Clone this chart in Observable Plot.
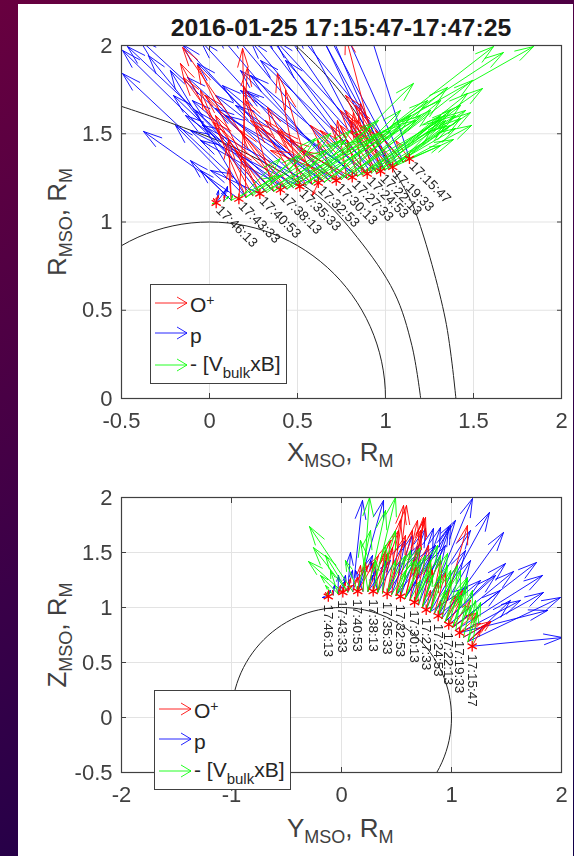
<!DOCTYPE html>
<html>
<head>
<meta charset="utf-8">
<script src="https://cdn.jsdelivr.net/npm/d3@7"></script>
<script src="https://cdn.jsdelivr.net/npm/@observablehq/plot@0.6"></script>
<style>
html,body{margin:0;padding:0}
body{width:574px;height:856px;position:relative;overflow:hidden;background:linear-gradient(150deg,#68003f 0%,#3a0048 50%,#100048 100%);font-family:"Liberation Sans",Arial,sans-serif}
#paper{position:absolute;left:18px;top:4px;width:554.5px;height:852px;background:#fff}
.chart{position:absolute;left:0;filter:blur(0.3px)}
.chart svg{display:block;background:transparent}
#title{position:absolute;left:121px;width:440px;top:14px;text-align:center;font-weight:bold;font-size:24.8px;color:#1a1a1a;white-space:nowrap}
.lab{position:absolute;color:#404040;font-size:26px;white-space:nowrap;line-height:1}
.lab sub{font-size:18px;vertical-align:-6px;line-height:0}
.legend{position:absolute;width:135px;height:98px;border:1.5px solid #404040;background:#fff;color:#262626;font-size:21px}
.legend svg{position:absolute;left:0;top:0}
.legend span.t{position:absolute;left:39px;white-space:nowrap;line-height:1}
.legend sup{font-size:14px;vertical-align:7px;line-height:0}
.legend sub{font-size:15px;vertical-align:-7px;line-height:0}
</style>
</head>
<body>
<div id="paper"></div>
<div id="c1" class="chart" style="top:0"></div>
<div id="c2" class="chart" style="top:460px"></div>
<div id="title">2016-01-25 17:15:47-17:47:25</div>
<div class="lab" style="left:287px;top:439px">X<sub>MSO</sub>, R<sub>M</sub></div>
<div class="lab" style="left:287px;top:815px">Y<sub>MSO</sub>, R<sub>M</sub></div>
<div class="lab" style="left:57px;top:222px;transform:translate(-50%,-50%) rotate(-90deg)">R<sub>MSO</sub>, R<sub>M</sub></div>
<div class="lab" style="left:57px;top:635px;transform:translate(-50%,-50%) rotate(-90deg)">Z<sub>MSO</sub>, R<sub>M</sub></div>
<div id="leg1" class="legend" style="left:150px;top:284px"></div>
<div id="leg2" class="legend" style="left:154px;top:690px"></div>
<script>
// station time labels, every third sample along the track
const stationTimes = ["17:15:47","17:19:33","17:22:13","17:24:53","17:27:33","17:30:13","17:32:53","17:35:33","17:38:13","17:40:53","17:43:33","17:46:13"];
const xTicksTop = [-0.5,0,0.5,1,1.5,2];
const yTicksTop = [0,0.5,1,1.5,2];
const xTicksBottom = [-2,-1,0,1,2];
const yTicksBottom = [-0.5,0,0.5,1,1.5,2];

// Upper panel: track
const trackX = [1.136,1.10,1.07,1.041,1.02,0.995,0.972,0.947,0.92,0.896,0.868,0.84,0.811,0.78,0.75,0.72,0.686,0.652,0.618,0.583,0.548,0.513,0.476,0.44,0.403,0.364,0.325,0.286,0.246,0.207,0.167,0.124,0.081,0.038];
const trackR = [1.358,1.34,1.325,1.311,1.303,1.295,1.288,1.283,1.278,1.273,1.267,1.26,1.254,1.248,1.241,1.235,1.23,1.226,1.222,1.215,1.208,1.201,1.195,1.188,1.182,1.175,1.167,1.16,1.15,1.14,1.131,1.123,1.116,1.108];
// Upper panel: arrow tips
const pTipX = [0.80,0.716,0.631,0.46,0.631,0.517,0.347,0.517,0.318,0.233,0.233,0.205,0.119,0.176,0.034,0.074,-0.051,0.034,-0.068,-0.153,-0.125,-0.403,-0.097,-0.136,-0.466,-0.205,-0.494,-0.347,-0.494,-0.193,-0.375,-0.108,0.102,0.051];
const pTipR = [2.425,2.198,2.142,2.368,2.198,2.312,2.198,2.113,2.085,2.142,2.028,1.745,2.085,1.858,2.085,1.773,2.028,1.643,1.898,2.006,1.819,2.04,1.688,1.603,1.994,1.717,1.972,1.943,1.841,1.547,1.513,1.348,1.201,1.178];
const oTipX = [1.057,0.943,0.858,0.801,0.83,0.773,0.773,0.744,0.858,0.631,0.818,0.784,0.517,0.727,0.347,0.614,0.233,0.386,0.585,0.432,0.33,0.386,-0.023,0.023,-0.153,0.193,-0.148,-0.068,-0.165,0.188,0.216,0.108,0.085,0.023];
const oTipR = [1.462,1.518,1.547,1.518,1.575,1.632,2.057,1.547,1.671,1.518,1.62,1.462,1.405,1.575,1.405,1.462,1.575,1.518,1.15,1.745,1.649,1.841,1.717,1.564,1.989,1.773,1.819,1.887,1.898,1.983,1.875,1.303,1.15,1.133];
const eTipX = [1.313,1.341,1.256,1.386,1.341,1.398,1.313,1.426,1.369,1.466,1.341,1.551,1.256,1.494,1.142,1.352,1.085,1.239,1.614,1.159,0.915,1.67,0.96,0.801,1.841,0.773,0.744,0.688,0.602,0.517,0.403,0.131,0.108,0.017];
const eTipR = [1.433,1.575,1.518,1.467,1.547,1.53,1.603,1.66,1.632,1.728,1.603,1.756,1.632,1.802,1.603,1.762,1.632,1.688,1.994,1.785,1.547,1.96,1.575,1.518,1.994,1.462,1.462,1.501,1.473,1.377,1.36,1.15,1.144,1.105];
// Upper panel: further tips, from every second sample (odd positions of the track)
const pTip2X = [0.489,0.375,0.432,0.29,0.233,0.176,0.148,0.091,0.034,-0.04,-0.108,-0.051,-0.08,0.006,-0.222,-0.051,0.091];
const pTip2R = [2.085,2.028,1.915,1.915,1.83,1.745,1.66,1.603,1.717,1.547,1.518,1.462,1.632,1.292,1.858,1.292,1.178];
const oTip2X = [0.773,0.83,0.744,0.801,0.688,0.574,0.46,0.403,0.318,0.261,0.205,0.176,0.148,0.034,-0.051,0.108,0.051];
const oTip2R = [1.717,1.66,1.632,1.575,1.547,1.547,1.462,1.518,1.575,1.547,1.688,1.518,1.405,1.603,1.745,1.462,1.15];
const eTip2X = [1.489,1.426,1.483,1.369,1.455,1.398,1.313,1.313,1.199,1.085,1.17,1.028,0.943,0.858,0.659,0.403,0.028];
const eTip2R = [1.547,1.586,1.62,1.547,1.632,1.603,1.688,1.575,1.603,1.547,1.575,1.518,1.49,1.462,1.405,1.263,1.105];

// Lower panel: track
const trackY = [1.188,1.15,1.11,1.073,1.04,1.01,0.975,0.943,0.911,0.879,0.843,0.806,0.77,0.735,0.70,0.664,0.621,0.578,0.536,0.496,0.455,0.415,0.373,0.33,0.288,0.241,0.195,0.148,0.103,0.057,0.012,-0.032,-0.076,-0.12];
const trackZ = [0.648,0.69,0.73,0.77,0.795,0.82,0.845,0.871,0.898,0.924,0.942,0.961,0.979,1.002,1.025,1.048,1.065,1.083,1.10,1.108,1.116,1.124,1.132,1.14,1.148,1.148,1.148,1.148,1.145,1.142,1.139,1.126,1.113,1.10];
// Lower panel: arrow tips
const pTipY = [2.009,1.991,1.836,1.873,1.827,1.773,1.564,1.491,1.473,1.264,1.345,1.145,1.191,0.991,0.973,0.9,0.836,0.809,0.764,0.718,0.645,0.536,0.4,0.264,0.309,0.282,0.127,0.382,0.191,0.082,0.036,-0.027,-0.064,-0.173];
const pTipZ = [0.727,1.091,1.136,0.973,1.291,1.409,1.327,1.4,1.682,1.245,1.864,1.182,1.991,1.745,1.727,1.727,1.718,1.473,1.718,1.518,1.655,1.427,1.427,1.427,1.336,1.291,1.336,1.973,1.973,1.5,1.291,1.291,1.2,1.091];
const oTipY = [1.264,1.355,1.355,1.264,1.236,1.191,1.082,1.036,1.145,0.9,0.945,0.882,0.809,0.809,0.673,0.745,0.745,0.764,0.691,0.591,0.564,0.536,0.464,0.4,0.418,0.291,0.218,0.173,0.145,0.082,0.036,-0.009,-0.082,-0.145];
const oTipZ = [0.791,0.864,0.873,0.855,0.955,0.945,1.064,1.109,1.745,1.064,1.318,1.227,1.155,1.427,1.382,1.818,1.791,1.818,1.791,1.927,1.927,1.791,1.545,1.518,1.491,1.409,1.409,1.382,1.273,1.264,1.227,1.2,1.155,1.136];
const eTipY = [1.236,1.264,1.173,1.127,1.082,1.145,1.064,1.145,0.991,1.055,0.945,0.9,0.964,0.827,0.809,0.873,0.718,0.718,0.627,0.582,0.718,0.491,0.4,0.309,0.491,0.173,0.255,0.036,-0.291,-0.255,-0.3,-0.191,-0.145,-0.127];
const eTipZ = [0.955,1.045,1.018,1.018,1.109,1.264,1.155,1.273,1.245,1.382,1.155,1.291,1.491,1.291,1.427,1.564,1.245,1.427,1.518,1.336,1.545,1.427,1.564,1.427,2.0,1.609,2.0,1.427,1.736,1.545,1.418,1.291,1.2,1.136];
// Lower panel: further tips, from every second sample
const pTip2Y = [1.536,1.627,1.445,1.4,1.173,1.127,1.173,0.945,1.036,0.855,0.7,0.582,0.445,0.282,0.1,0.036,-0.1];
const pTip2Z = [1.064,1.064,1.155,1.291,1.427,1.518,1.7,1.564,1.791,1.564,1.564,1.609,1.427,1.473,1.336,1.245,1.155];
const oTip2Y = [1.309,1.245,1.173,1.1,0.973,0.9,0.827,0.791,0.718,0.645,0.582,0.518,0.445,0.336,0.245,0.1,-0.118];
const oTip2Z = [0.836,0.927,1.064,1.155,1.155,1.427,1.336,1.564,1.7,1.7,1.655,1.7,1.609,1.473,1.382,1.2,1.155];
const eTip2Y = [1.218,1.191,1.127,1.082,0.991,0.964,0.9,0.809,0.764,0.673,0.582,0.491,0.4,0.264,-0.145,-0.1,-0.136];
const eTip2Z = [1.064,1.155,1.155,1.336,1.336,1.382,1.473,1.336,1.473,1.427,1.473,1.7,1.882,1.7,1.473,1.336,1.118];

// Reference boundaries in the upper panel
const midX = [-0.5,-0.148,0.176,0.614,0.84,1.05,1.15,1.2];
const midR = [1.655,1.535,1.405,1.15,0.912,0.6,0.3,0];
const outerX = [0.49,0.648,0.79,1.108,1.18,1.34,1.4];
const outerR = [2.0,1.847,1.677,1.19,1.03,0.45,0];

const RED="#ff0000", BLUE="#0000ff", GREEN="#00ff00", GRID="#e3e3e3", INK="#404040";
const odd=a=>a.filter((_,i)=>i%2===1);
const rows=(sx,sy,tx,ty,tx2,ty2)=>[
  ...sx.map((x,i)=>({x1:x,y1:sy[i],x2:tx[i],y2:ty[i]})),
  ...odd(sx).map((x,i)=>({x1:x,y1:odd(sy)[i],x2:tx2[i],y2:ty2[i]}))
];
const pts=(xs,ys)=>xs.map((x,i)=>({x,y:ys[i]}));
const stations=(xs,ys)=>stationTimes.map((t,k)=>({t,x:xs[k*3],y:ys[k*3]}));
const circle=d3.range(0,361,3).map(a=>({x:Math.cos(a*Math.PI/180),y:Math.sin(a*Math.PI/180)}));
const arrowOpts=(color)=>({x1:"x1",y1:"y1",x2:"x2",y2:"y2",stroke:color,strokeWidth:1,strokeOpacity:0.9,headLength:29,headAngle:32,clip:true});

function panel({height,marginTop,marginBottom,xDomain,yDomain,xTicks,yTicks,curves,o,p,e,track,rotate,dx,dy}){
  const st=stations(track[0],track[1]);
  return Plot.plot({
    width:574,height,marginLeft:121,marginRight:13,marginTop,marginBottom,
    style:{background:"transparent",overflow:"visible"},
    x:{domain:xDomain,label:null},
    y:{domain:yDomain,label:null},
    marks:[
      Plot.gridX(xTicks,{stroke:GRID,strokeOpacity:1,strokeWidth:1}),
      Plot.gridY(yTicks,{stroke:GRID,strokeOpacity:1,strokeWidth:1}),
      ...curves.map(c=>Plot.line(c.data,{x:"x",y:"y",stroke:"#222",strokeWidth:1,curve:c.curve,clip:true})),
      Plot.arrow(p,arrowOpts(BLUE)),
      Plot.arrow(o,arrowOpts(RED)),
      Plot.arrow(e,arrowOpts(GREEN)),
      Plot.dot(st,{x:"x",y:"y",symbol:"asterisk",r:5,stroke:RED,strokeWidth:1.3}),
      Plot.text(st,{x:"x",y:"y",text:"t",rotate,textAnchor:"start",dx,dy,fontSize:13.5,fill:"#222",fontFamily:"Liberation Sans"}),
      Plot.frame({stroke:INK,strokeWidth:1.2}),
      Plot.axisX(xTicks,{tickSize:-5,tickPadding:19,stroke:INK,fill:INK,fontSize:22,tickFormat:d=>String(d),fontFamily:"Liberation Sans",label:null}),
      Plot.axisX(xTicks,{anchor:"top",tickSize:-5,tickFormat:()=>"",stroke:INK,label:null}),
      Plot.axisY(yTicks,{tickSize:-5,tickPadding:14,stroke:INK,fill:INK,fontSize:22,tickFormat:d=>String(d),fontFamily:"Liberation Sans",label:null}),
      Plot.axisY(yTicks,{anchor:"right",tickSize:-5,tickFormat:()=>"",stroke:INK,label:null})
    ]
  });
}

document.getElementById("c1").append(panel({
  height:460,marginTop:45,marginBottom:62,xDomain:[-0.5,2],yDomain:[0,2],xTicks:xTicksTop,yTicks:yTicksTop,
  curves:[{data:circle,curve:"linear"},{data:pts(midX,midR),curve:"catmull-rom"},{data:pts(outerX,outerR),curve:"catmull-rom"}],
  o:rows(trackX,trackR,oTipX,oTipR,oTip2X,oTip2R),p:rows(trackX,trackR,pTipX,pTipR,pTip2X,pTip2R),e:rows(trackX,trackR,eTipX,eTipR,eTip2X,eTip2R),
  track:[trackX,trackR],rotate:45,dx:2,dy:5
}));
document.getElementById("c2").append(panel({
  height:396,marginTop:37,marginBottom:84,xDomain:[-2,2],yDomain:[-0.5,2],xTicks:xTicksBottom,yTicks:yTicksBottom,
  curves:[{data:circle,curve:"linear"}],
  o:rows(trackY,trackZ,oTipY,oTipZ,oTip2Y,oTip2Z),p:rows(trackY,trackZ,pTipY,pTipZ,pTip2Y,pTip2Z),e:rows(trackY,trackZ,eTipY,eTipZ,eTip2Y,eTip2Z),
  track:[trackY,trackZ],rotate:90,dx:0,dy:8
}));

const legendRows=[
  {c:RED,y:18,html:'O<sup>+</sup>',ty:9},
  {c:BLUE,y:48,html:'p',ty:40},
  {c:GREEN,y:80,html:'- [V<sub>bulk</sub>xB]',ty:68}
];
for(const id of ["leg1","leg2"]){
  const el=document.getElementById(id);
  const keys=legendRows.map(r=>`<path d="M4 ${r.y}H36M26 ${r.y-6}L36 ${r.y}L26 ${r.y+6}" fill="none" stroke="${r.c}" stroke-width="1" stroke-opacity="0.85"/>`).join("");
  el.innerHTML=`<svg width="135" height="98">${keys}</svg>`+legendRows.map(r=>`<span class="t" style="top:${r.ty}px">${r.html}</span>`).join("");
}
</script>
</body>
</html>
